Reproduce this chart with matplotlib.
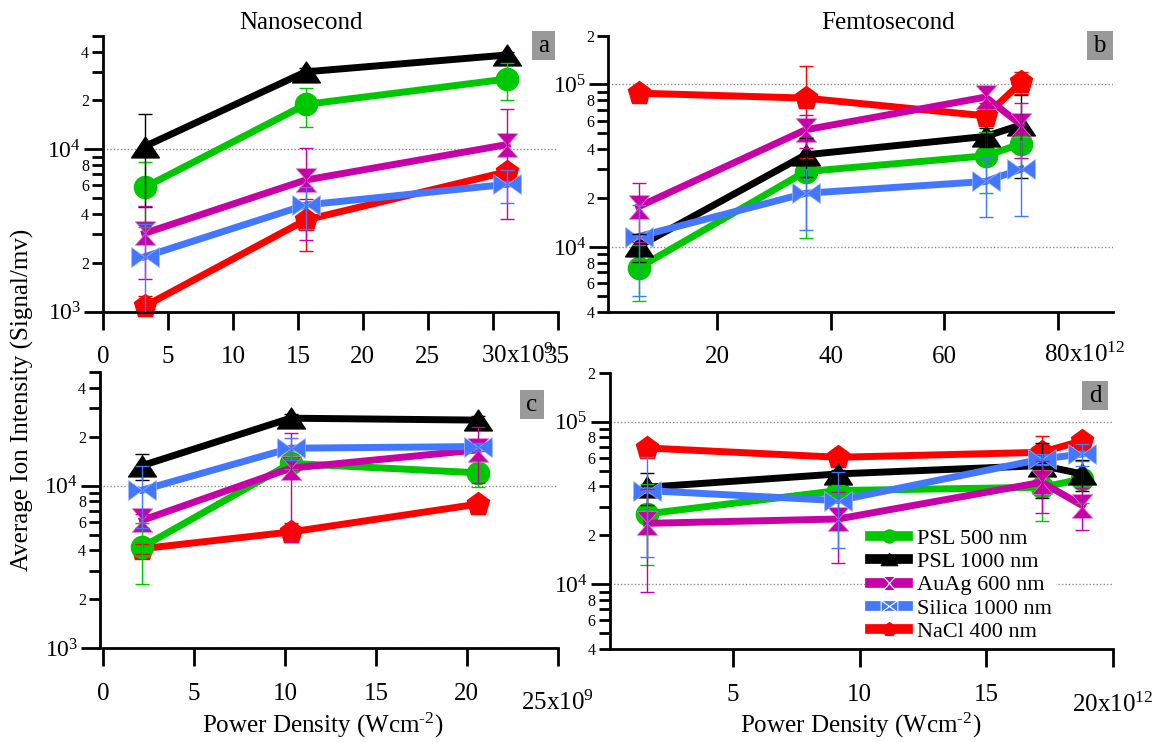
import numpy as np
import matplotlib
matplotlib.use("Agg")
import matplotlib.pyplot as plt
from matplotlib.path import Path
from matplotlib.ticker import LogLocator, FuncFormatter, FixedLocator, NullLocator
from matplotlib.lines import Line2D
from matplotlib.patches import Rectangle

plt.rcParams['font.family'] = ['Liberation Serif', 'DejaVu Serif']
plt.rcParams['mathtext.fontset'] = 'custom'
plt.rcParams['mathtext.rm'] = 'Liberation Serif'
plt.rcParams['mathtext.it'] = 'Liberation Serif:italic'

# ---------------- data ----------------
series_names = ["PSL 500 nm", "PSL 1000 nm", "AuAg 600 nm", "Silica 1000 nm", "NaCl 400 nm"]

# (a) nanosecond  (power density in 1e9 W/cm^2)
x_a = [3.2, 15.6, 31.1]
psl500_a = [5.83e3, 18.9e3, 27.1e3]
psl500_a_err = [2.5e3, 5.1e3, 6.9e3]
psl1000_a = [10.4e3, 30.0e3, 38.1e3]
psl1000_a_err = [6.0e3, 1.5e3, 1.5e3]
auag_a = [3.04e3, 6.47e3, 10.7e3]
auag_a_err = [1.46e3, 3.7e3, 7.0e3]
silica_a = [2.18e3, 4.54e3, 6.09e3]
silica_a_err = [1.29e3, 1.3e3, 1.4e3]
nacl_a = [1.08e3, 3.67e3, 7.28e3]
nacl_a_err = [0.17e3, 1.3e3, 0.5e3]

# (b) femtosecond  (power density in 1e12 W/cm^2)
x_b = [6.2, 35.6, 67.3, 73.6]
psl500_b = [7.46e3, 29.1e3, 36.4e3, 43.1e3]
psl500_b_err = [2.8e3, 17.7e3, 14.8e3, 5.0e3]
psl1000_b = [10.1e3, 36.9e3, 47.9e3, 56.4e3]
psl1000_b_err = [2.0e3, 9.8e3, 6.4e3, 30e3]
auag_b = [17.7e3, 52.6e3, 83.6e3, 56.4e3]
auag_b_err = [7.0e3, 12e3, 12e3, 21e3]
silica_b = [11.6e3, 21.4e3, 25.3e3, 30.2e3]
silica_b_err = [6.6e3, 8.6e3, 10e3, 14.7e3]
nacl_b = [88.4e3, 82.4e3, 64.1e3, 102.8e3]
nacl_b_err = [3e3, 47e3, 13e3, 16e3]

# (c) nanosecond  (power density in 1e9 W/cm^2)
x_c = [2.15, 10.3, 20.6]
psl500_c = [4.20e3, 13.7e3, 12.0e3]
psl500_c_err = [1.7e3, 1.0e3, 2.2e3]
psl1000_c = [13.3e3, 26.0e3, 25.3e3]
psl1000_c_err = [2.4e3, 1.5e3, 1.5e3]
auag_c = [6.13e3, 12.8e3, 16.6e3]
auag_c_err = [0.6e3, 8.3e3, 6.2e3]
silica_c = [9.40e3, 17.0e3, 17.4e3]
silica_c_err = [3.9e3, 2.6e3, 1.0e3]
nacl_c = [4.10e3, 5.19e3, 7.70e3]
nacl_c_err = [0.3e3, 0.7e3, 0.3e3]

# (d) femtosecond  (power density in 1e12 W/cm^2)
x_d = [1.6, 9.15, 17.2, 18.8]
psl500_d = [27.1e3, 37.7e3, 39.5e3, 44.4e3]
psl500_d_err = [14e3, 3e3, 15e3, 13e3]
psl1000_d = [39.5e3, 47.7e3, 53.7e3, 47.7e3]
psl1000_d_err = [8.6e3, 3e3, 20e3, 10e3]
auag_d = [23.7e3, 25.2e3, 42.4e3, 30.5e3]
auag_d_err = [14.7e3, 11.7e3, 15e3, 8.8e3]
silica_d = [37.7e3, 32.7e3, 58.9e3, 63.3e3]
silica_d_err = [23e3, 16e3, 4e3, 10e3]
nacl_d = [68.9e3, 60.4e3, 64.8e3, 76.4e3]
nacl_d_err = [3e3, 3e3, 16.5e3, 3e3]

xticks_a = [0, 5, 10, 15, 20, 25, 30, 35]
xticks_b = [20, 40, 60, 80]
xticks_c = [0, 5, 10, 15, 20, 25]
xticks_d = [5, 10, 15, 20]

# ---------------- styles ----------------
tri = Path([(-1, -0.75), (1, -0.75), (0, 0.75), (-1, -0.75)],
           [Path.MOVETO, Path.LINETO, Path.LINETO, Path.CLOSEPOLY])
hourglass = Path([(-0.87, 1), (0.87, 1), (-0.87, -1), (0.87, -1), (-0.87, 1)],
                 [Path.MOVETO, Path.LINETO, Path.LINETO, Path.LINETO, Path.CLOSEPOLY])
bowtie = Path([(-1, 0.72), (-1, -0.72), (1, 0.72), (1, -0.72), (-1, 0.72)],
              [Path.MOVETO, Path.LINETO, Path.LINETO, Path.LINETO, Path.CLOSEPOLY])

styles = {
    "PSL 500 nm":     dict(color="#00c800", marker="o", ms=16, mec="#00c800", mew=1, z=3),
    "PSL 1000 nm":    dict(color="#000000", marker=tri, ms=20, mec="#000000", mew=1, z=4),
    "AuAg 600 nm":    dict(color="#c800a8", marker=hourglass, ms=17, mec="#e27fd2", mew=0.5, z=5),
    "Silica 1000 nm": dict(color="#4477ff", marker=bowtie, ms=20, mec="#9fb9ff", mew=0.5, z=6),
    "NaCl 400 nm":    dict(color="#ff0000", marker="p", ms=17, mec="#ff0000", mew=1, z=2),
}

W, H = 1159, 742
fig = plt.figure(figsize=(W / 100, H / 100), dpi=100)


def rect(x0, y0, x1, y1):
    return [x0 / W, 1 - y1 / H, (x1 - x0) / W, (y1 - y0) / H]


ax_a = fig.add_axes(rect(103, 35.8, 557.7, 311.7))
ax_b = fig.add_axes(rect(608.3, 35.5, 1112.7, 311.7))
ax_c = fig.add_axes(rect(103.3, 372, 557.7, 648.3))
ax_d = fig.add_axes(rect(609.6, 372.7, 1112.7, 649))


def major_fmt(v, pos):
    e = int(np.round(np.log10(v)))
    return r'$\mathregular{10^{%d}}$' % e


def minor_fmt(v, pos):
    e = np.floor(np.log10(v) + 1e-9)
    m = int(np.round(v / 10 ** e))
    return str(m) if m in (2, 4, 6, 8) else ""


def style_axes(ax, xlim, ylim, xticks, xlabels):
    ax.set_yscale('log')
    ax.set_xlim(*xlim)
    ax.set_ylim(*ylim)
    for s in ('top', 'right'):
        ax.spines[s].set_visible(False)
    for s in ('left', 'bottom'):
        ax.spines[s].set_linewidth(2)
    ax.yaxis.set_major_locator(LogLocator(base=10, numticks=10))
    ax.yaxis.set_minor_locator(LogLocator(base=10, subs=np.arange(2, 10), numticks=30))
    ax.yaxis.set_major_formatter(FuncFormatter(major_fmt))
    ax.yaxis.set_minor_formatter(FuncFormatter(minor_fmt))
    ax.tick_params(axis='y', which='major', direction='out', length=13.7, width=2,
                   labelsize=17, pad=2)
    ax.tick_params(axis='y', which='minor', direction='out', length=8, width=2,
                   labelsize=11.5, pad=2)
    ax.xaxis.set_major_locator(FixedLocator(xticks))
    ax.xaxis.set_minor_locator(NullLocator())
    ax.set_xticklabels(xlabels)
    ax.tick_params(axis='x', which='major', direction='out', length=13, width=2,
                   labelsize=18, pad=12)
    ax.yaxis.grid(True, which='major', linestyle=(0, (1, 1.5)), color='#8a8a8a', lw=1)
    ax.set_axisbelow(True)


def draw(ax, x, vals, errs):
    for name in series_names:
        st = styles[name]
        ax.plot(x, vals[name], color=st["color"], lw=5, marker=st["marker"], ms=st["ms"],
                mfc=st["color"], mec=st["mec"], mew=st["mew"], zorder=st["z"], clip_on=False)
        ax.errorbar(x, vals[name], yerr=errs[name], fmt='none', ecolor=st["color"],
                    elinewidth=1, capsize=4.7, capthick=1, zorder=10 + st["z"])


draw(ax_a, x_a,
     dict(zip(series_names, [psl500_a, psl1000_a, auag_a, silica_a, nacl_a])),
     dict(zip(series_names, [psl500_a_err, psl1000_a_err, auag_a_err, silica_a_err, nacl_a_err])))
draw(ax_b, x_b,
     dict(zip(series_names, [psl500_b, psl1000_b, auag_b, silica_b, nacl_b])),
     dict(zip(series_names, [psl500_b_err, psl1000_b_err, auag_b_err, silica_b_err, nacl_b_err])))
draw(ax_c, x_c,
     dict(zip(series_names, [psl500_c, psl1000_c, auag_c, silica_c, nacl_c])),
     dict(zip(series_names, [psl500_c_err, psl1000_c_err, auag_c_err, silica_c_err, nacl_c_err])))
draw(ax_d, x_d,
     dict(zip(series_names, [psl500_d, psl1000_d, auag_d, silica_d, nacl_d])),
     dict(zip(series_names, [psl500_d_err, psl1000_d_err, auag_d_err, silica_d_err, nacl_d_err])))

style_axes(ax_a, (0, 35), (1e3, 5e4), xticks_a, ['0', '5', '10', '15', '20', '25', '', '35'])
style_axes(ax_b, (0.86, 89.7), (4e3, 2.0001e5), xticks_b, ['20', '40', '60', ''])
style_axes(ax_c, (0, 25), (1e3, 5e4), xticks_c, ['0', '5', '10', '15', '20', ''])
style_axes(ax_d, (0.13, 20), (4e3, 2.0001e5), xticks_d, ['5', '10', '15', ''])
ax_c.spines['left'].set_position(('outward', 2.4))


# scale labels on the last ticks
def scale_label(ax, xval, text, dx, dy, ha):
    ax.annotate(text, xy=(xval, 0), xycoords=('data', 'axes fraction'),
                xytext=(dx, dy), textcoords='offset points', ha=ha, va='baseline',
                fontsize=18, annotation_clip=False)


scale_label(ax_a, 30, r'$\mathregular{30x10^{9}}$', -8.6, -36.7, 'left')
scale_label(ax_b, 80, r'$\mathregular{80x10^{12}}$', -9.5, -36.5, 'left')
scale_label(ax_c, 25, r'$\mathregular{25x10^{9}}$', 0, -44.4, 'center')
scale_label(ax_d, 20, r'$\mathregular{20x10^{12}}$', 0, -45, 'center')

# titles, axis labels
fig.text(300.6 / W, 1 - 29.3 / H, "Nanosecond", ha='center', va='baseline', fontsize=18)
fig.text(888 / W, 1 - 29.3 / H, "Femtosecond", ha='center', va='baseline', fontsize=18)
fig.text(22 / W, 1 - 400 / H, "Average Ion Intensity (Signal/mv)", rotation=90,
         ha='center', va='center', fontsize=18)
xlabel = r'Power Density (Wcm$^{\mathregular{\text{-}2}}$)'
fig.text(322.4 / W, 1 - 733 / H, xlabel, ha='center', va='baseline', fontsize=18)
fig.text(861 / W, 1 - 733 / H, xlabel, ha='center', va='baseline', fontsize=18)

# panel letters in grey boxes
for letter, (x0, y0, x1, y1) in zip("abcd", [(531.6, 31, 555, 60), (1086.8, 31, 1112.7, 60),
                                             (519.8, 390, 543.8, 419), (1082, 381, 1108, 410)]):
    fig.add_artist(Rectangle((x0 / W, 1 - y1 / H), (x1 - x0) / W, (y1 - y0) / H,
                             transform=fig.transFigure, facecolor='#999999', edgecolor='none'))
    fig.text((x0 + x1) / 2 / W, 1 - ((y0 + y1) / 2 + 1) / H, letter, ha='center', va='center',
             fontsize=18)

# legend
handles = []
for name in series_names:
    st = styles[name]
    edge = "white" if st["marker"] in (hourglass, bowtie) else st["mec"]
    handles.append(Line2D([], [], color=st["color"], lw=7, marker=st["marker"],
                          ms=st["ms"] * 0.6, mfc=st["color"], mec=edge, mew=0.8))
leg = ax_d.legend(handles, series_names, loc='upper left',
                  bbox_to_anchor=(866 / W, 1 - 524 / H), bbox_transform=fig.transFigure,
                  fontsize=16, handlelength=1.67, handletextpad=0.43, labelspacing=0.12,
                  borderpad=0.2, borderaxespad=0, frameon=True, fancybox=False,
                  facecolor='white', edgecolor='none', framealpha=1)
leg.set_zorder(30)

fig.savefig("out.png", dpi=100)
